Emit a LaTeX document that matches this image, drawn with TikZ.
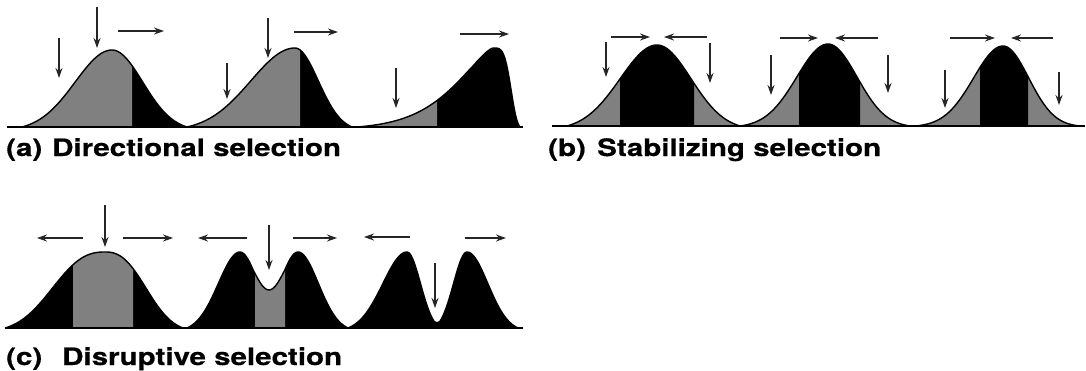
\documentclass[tikz,border=0pt]{standalone}
\usepackage{fontspec}
\setmainfont{TeX Gyre Heros}
\newfontfamily\lblfont[FakeStretch=1.23, BoldFeatures={FakeBold=0.5}]{TeX Gyre Heros}
\usetikzlibrary{arrows.meta}
\definecolor{stip}{gray}{0.5}
\pgfmathdeclarefunction{gb}{7}{%
  \begingroup
    \pgfmathsetmacro\gbw{(#1<#2)?(#3):(#4)}%
    \pgfmathsetmacro\gbp{(#1<#2)?(#5):(#6)}%
    \pgfmathsetmacro\gbu{min(abs((#1)-(#2))/\gbw,1)+0.0001}%
    \pgfmathsetmacro\gbe{exp(-(#7))}%
    \pgfmathparse{max(0,(exp(-(#7)*(\gbu)^(\gbp))-\gbe)/(1-\gbe))}%
    \pgfmathsmuggle\pgfmathresult
  \endgroup}
\tikzset{
  arr/.style={line width=1.5pt, draw=black!85, -{Stealth[length=10pt,width=7pt]}},
  outline/.style={line width=1.4pt, line join=round},
  base/.style={line width=1.3pt},
  lbl/.style={inner sep=0pt, font=\lblfont\fontsize{24}{28}\selectfont\bfseries}
}
\def\aone{plot[domain=22:187,samples=90] (\x,{127-77*gb(\x,112,90,75,2,2,3)})}
\def\atwo{plot[domain=187:352,samples=90] (\x,{127-79*gb(\x,295,108,57,2,2,3)})}
\def\athree{plot[domain=357:520,samples=110] (\x,{127-79*gb(\x,493,136,27,1.4,4,3.6)})}
\def\bone{plot[domain=567:740,samples=90] (\x,{126-81*gb(\x,657,90,83,2,2,3)})}
\def\btwo{plot[domain=740:910,samples=90] (\x,{126-82*gb(\x,828,88,82,2,2,4)})}
\def\bthree{plot[domain=915:1080,samples=90] (\x,{126-80*gb(\x,1003,88,77,2,2,4.5)})}
\def\cone{plot[domain=5:183,samples=90] (\x,{328-76*gb(\x,105,100,78,2.5,2.5,3)})}
\def\ctwo{plot[domain=187:348,samples=110] (\x,{328-76*(gb(\x,240,53,45,2,2,3)+gb(\x,298,45,50,2,2,3))})}
\def\cthree{plot[domain=348:518,samples=130] (\x,{328-76*(gb(\x,407,59,33,2,2,3)+gb(\x,467,33,51,2,2,3))})}
\begin{document}
\begin{tikzpicture}[x=1pt,y=-1pt]
\useasboundingbox[fill=white] (0,0) rectangle (1086,370);
% ---------- (a) directional ----------
\fill[black] \aone -- cycle;
\begin{scope}\clip (0,0) rectangle (132,130); \fill[stip] \aone -- cycle;\end{scope}
\fill[black] \atwo -- cycle;
\begin{scope}\clip (180,0) rectangle (300,130); \fill[stip] \atwo -- cycle;\end{scope}
\fill[black] \athree -- cycle;
\begin{scope}\clip (350,0) rectangle (437,130); \fill[stip] \athree -- cycle;\end{scope}
\draw[outline] \aone; \draw[outline] \atwo; \draw[outline] \athree;
\draw[base] (7,127) -- (523,127);
\draw[arr] (59,38) -- (59,78);
\draw[arr] (97,7) -- (97,48);
\draw[arr] (118,31) -- (164,31);
\draw[arr] (227,63) -- (227,99);
\draw[arr] (268,18) -- (268,58);
\draw[arr] (294,32) -- (338,32);
\draw[arr] (396,68) -- (396,108);
\draw[arr] (460,34) -- (509,34);
\node[lbl, anchor=base west] (la) at (6,156) {(a)};
\node[lbl, anchor=base west] (ta) at (52,156) {Directional selection};
% ---------- (b) stabilizing ----------
\fill[stip] \bone -- cycle;
\begin{scope}\clip (620,0) rectangle (694,130); \fill[black] \bone -- cycle;\end{scope}
\fill[stip] \btwo -- cycle;
\begin{scope}\clip (799,0) rectangle (860,130); \fill[black] \btwo -- cycle;\end{scope}
\fill[stip] \bthree -- cycle;
\begin{scope}\clip (980,0) rectangle (1028,130); \fill[black] \bthree -- cycle;\end{scope}
\draw[outline] \bone; \draw[outline] \btwo; \draw[outline] \bthree;
\draw[base] (552,126) -- (1085,126);
\draw[arr] (606,42) -- (606,77);
\draw[arr] (710,43) -- (710,83);
\draw[arr] (611,37) -- (650,37);
\draw[arr] (707,37) -- (664,37);
\draw[arr] (771,55) -- (771,95);
\draw[arr] (888,55) -- (888,93);
\draw[arr] (780,38) -- (818,38);
\draw[arr] (878,38) -- (835,38);
\draw[arr] (945,70) -- (945,108);
\draw[arr] (1059,72) -- (1059,105);
\draw[arr] (950,38) -- (995,38);
\draw[arr] (1053,38) -- (1011,38);
\node[lbl, anchor=base west] (lb) at (548,156) {(b)};
\node[lbl, anchor=base west] (tb) at (597,156) {Stabilizing selection};
% ---------- (c) disruptive ----------
\fill[black] \cone -- cycle;
\begin{scope}\clip (73,200) rectangle (133,330); \fill[stip] \cone -- cycle;\end{scope}
\fill[black] \ctwo -- cycle;
\begin{scope}\clip (255,200) rectangle (285,330); \fill[stip] \ctwo -- cycle;\end{scope}
\fill[black] \cthree -- cycle;
\draw[outline] \cone; \draw[outline] \ctwo; \draw[outline] \cthree;
\draw[base] (5,328) -- (523,328);
\draw[arr] (83,238) -- (37,238);
\draw[arr] (105,205) -- (105,247);
\draw[arr] (123,238) -- (173,238);
\draw[arr] (247,238) -- (198,238);
\draw[arr] (269,225) -- (269,270);
\draw[arr] (293,238) -- (337,238);
\draw[arr] (410,237) -- (364,237);
\draw[arr] (435,263) -- (435,308);
\draw[arr] (465,238) -- (506,238);
\node[lbl, anchor=base west] (lc) at (6,365) {(c)};
\node[lbl, anchor=base west] (tc) at (62,365) {Disruptive selection};
\end{tikzpicture}
\end{document}
